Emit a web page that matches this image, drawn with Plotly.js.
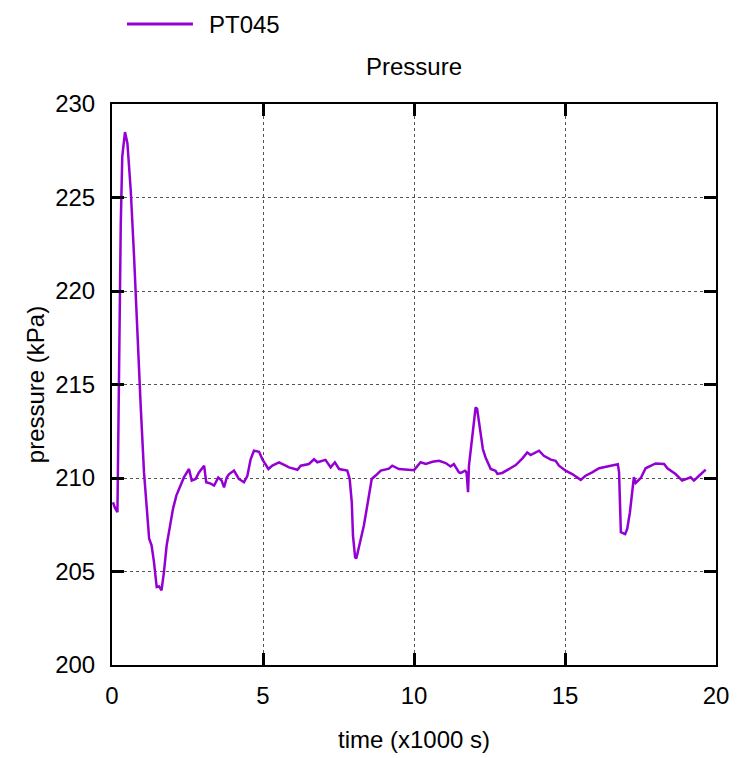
<!DOCTYPE html>
<html>
<head>
<meta charset="utf-8">
<script src="https://cdn.plot.ly/plotly-3.0.1.min.js"></script>
<style>html,body{margin:0;padding:0;background:#fff;}#chart{width:737px;height:758px;}</style>
</head>
<body>
<div id="chart"></div>
<script>
// time in thousands of seconds
const timeK = [0.03,0.10,0.18,0.21,0.25,0.29,0.34,0.43,0.51,0.62,0.73,0.84,0.95,1.06,1.15,1.23,1.31,1.39,1.48,1.56,1.64,1.72,1.81,1.92,2.02,2.13,2.22,2.38,2.55,2.64,2.77,2.88,3.05,3.12,3.27,3.38,3.52,3.63,3.71,3.80,3.87,4.04,4.20,4.37,4.48,4.59,4.70,4.87,4.98,5.18,5.31,5.53,5.75,5.86,6.14,6.25,6.52,6.69,6.80,7.07,7.24,7.38,7.52,7.79,7.87,7.94,7.98,8.05,8.09,8.16,8.24,8.34,8.45,8.60,8.73,8.90,9.17,9.28,9.50,9.72,10.00,10.22,10.39,10.61,10.83,11.05,11.21,11.32,11.49,11.55,11.69,11.74,11.79,11.82,11.88,11.95,12.04,12.09,12.17,12.28,12.37,12.54,12.70,12.76,12.92,13.15,13.37,13.59,13.75,13.86,14.14,14.30,14.53,14.69,14.80,15.02,15.24,15.52,15.68,15.90,16.13,16.40,16.75,16.79,16.82,16.85,16.99,17.06,17.15,17.23,17.28,17.34,17.51,17.67,17.84,18.00,18.28,18.39,18.66,18.88,19.16,19.27,19.44,19.66];
// PT045 pressure in kPa
const pt045 = [208.7,208.4,208.17,213,220.1,223.6,227.2,228.5,227.9,225.4,221.86,217.4,213.86,210.3,208.52,206.75,206.4,205.5,204.17,204.2,203.99,204.97,206.4,207.46,208.35,209.06,209.41,210.03,210.48,209.86,209.95,210.3,210.66,209.77,209.7,209.6,210.03,209.86,209.5,210.03,210.2,210.4,209.95,209.77,210.1,211.0,211.46,211.4,211.0,210.48,210.66,210.84,210.66,210.57,210.44,210.66,210.75,211.0,210.84,210.97,210.57,210.84,210.48,210.4,209.95,208.7,206.9,205.77,205.7,206.2,206.75,207.46,208.5,209.95,210.13,210.4,210.5,210.66,210.48,210.44,210.42,210.84,210.75,210.87,210.92,210.8,210.62,210.75,210.3,210.27,210.39,210.3,209.24,210.66,211.46,212.44,213.77,213.7,212.79,211.55,211.1,210.48,210.39,210.22,210.27,210.48,210.69,211.05,211.37,211.23,211.46,211.19,210.98,210.92,210.66,210.39,210.21,209.9,210.12,210.3,210.52,210.62,210.73,210.3,208.17,207.1,207.0,207.28,208.17,209.59,210.04,209.74,210.0,210.52,210.66,210.78,210.75,210.52,210.21,209.86,210.04,209.86,210.12,210.45];
const seriesName = 'PT045';
const seriesColor = '#9400D3';
const xTicks = [0,5,10,15,20];
const yTicks = [200,205,210,215,220,225,230];

const font = {family: '"Liberation Sans", Arial, sans-serif', size: 24, color: '#000'};

const axisCommon = {
  showline: true, linecolor: '#000', linewidth: 2, mirror: 'allticks',
  ticks: 'inside', ticklen: 12, tickwidth: 3, tickcolor: '#000',
  showgrid: true, gridcolor: '#555', gridwidth: 1, griddash: 'dot',
  zeroline: false, tickfont: font, tickmode: 'array', fixedrange: true,
  automargin: false
};

Plotly.newPlot('chart', [{
  x: timeK, y: pt045, type: 'scatter', mode: 'lines', name: seriesName,
  line: {color: seriesColor, width: 2.5}
}], {
  width: 737, height: 758,
  margin: {l: 112, r: 21, t: 104, b: 93},
  paper_bgcolor: '#fff', plot_bgcolor: '#fff',
  font: font,
  title: {text: 'Pressure', font: font, xref: 'paper', x: 0.5, xanchor: 'center', yref: 'container', y: 0.9116, yanchor: 'middle'},
  showlegend: false,
  // legend key drawn outside the plot (top-left), like the original
  shapes: [{type: 'line', xref: 'paper', yref: 'paper', x0: 0.0248, x1: 0.134, y0: 1.1426, y1: 1.1426,
            line: {color: seriesColor, width: 3}}],
  annotations: [{text: seriesName, xref: 'paper', yref: 'paper', x: 0.158, y: 1.1426, xanchor: 'left', yanchor: 'middle',
                 showarrow: false, font: font}],
  xaxis: Object.assign({}, axisCommon, {
    range: [0, 20], tickvals: xTicks, ticktext: xTicks.map(String),
    ticklabelstandoff: 8,
    title: {text: 'time (x1000 s)', font: font}
  }),
  yaxis: Object.assign({}, axisCommon, {
    range: [200, 230], tickvals: yTicks, ticktext: yTicks.map(String),
    ticklabelstandoff: 10, automargin: true,
    title: {text: 'pressure (kPa)', font: font, standoff: 4}
  })
}, {displayModeBar: false, staticPlot: true});
</script>
</body>
</html>
